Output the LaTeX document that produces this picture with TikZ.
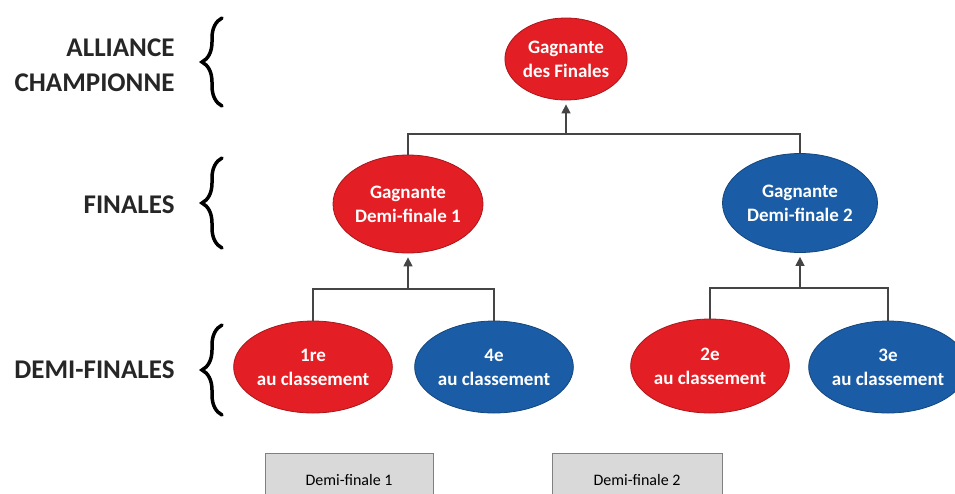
\documentclass[tikz,border=0pt]{standalone}
\usepackage{fontspec}
\setmainfont{Carlito}
\usetikzlibrary{shapes.geometric,decorations.pathreplacing,arrows.meta}
\definecolor{rouge}{HTML}{E31E24}
\definecolor{bleu}{HTML}{1A5DA6}
\definecolor{trait}{HTML}{454545}
\definecolor{gris}{HTML}{D9D9D9}
\tikzset{
  equipe/.style={ellipse, draw=#1!75!black, fill=#1, line width=0.8pt, text=white,
    inner sep=0pt, align=center, font=\bfseries\fontsize{19}{24}\selectfont},
  niveau/.style={align=right, anchor=east, text=black!85,
    font=\bfseries\fontsize{27}{35}\selectfont},
  accolade/.style={decorate, decoration={brace, amplitude=20pt}, line width=3.5pt, line cap=round},
  lien/.style={draw=trait, line width=1.5pt},
  fleche/.style={lien, -{Triangle[length=9pt,width=9pt]}, shorten >=4pt},
  etiquette/.style={draw=gray, fill=gris, minimum height=54pt, inner sep=0pt,
    font=\fontsize{16}{19}\selectfont}
}
\begin{document}
\begin{tikzpicture}[x=1pt,y=-1pt]
  \useasboundingbox (0,0) rectangle (955,493);
  % niveaux
  \node[niveau] (lchamp) at (178,65) {ALLIANCE\\CHAMPIONNE};
  \node[niveau] (lfin) at (178,205) {FINALES};
  \node[niveau] (ldemi) at (178,370) {DEMI-FINALES};
  \draw[accolade] (222,106) -- (222,18);
  \draw[accolade] (222,248) -- (222,158);
  \draw[accolade] (222,415) -- (222,325);
  % equipes
  \node[equipe=rouge, minimum width=104pt, minimum height=82pt] (champ) at (566,59) {Gagnante\\des Finales};
  \node[equipe=rouge, minimum width=150pt, minimum height=98pt] (gdf1) at (408,204) {Gagnante\\Demi-finale 1};
  \node[equipe=bleu, minimum width=155pt, minimum height=99pt] (gdf2) at (800,203) {Gagnante\\Demi-finale 2};
  \node[equipe=rouge, minimum width=150pt, minimum height=92pt] (p1) at (313,367) {1re\\au classement};
  \node[equipe=bleu, minimum width=142pt, minimum height=92pt] (p4) at (494,367) {4e\\au classement};
  \node[equipe=rouge, minimum width=150pt, minimum height=94pt] (p2) at (710,366) {2e\\au classement};
  \node[equipe=bleu, minimum width=142pt, minimum height=92pt] (p3) at (888,367) {3e\\au classement};
  % liens
  \coordinate (jA) at (566,134);
  \coordinate (jB) at (408,289);
  \coordinate (jC) at (800,288);
  \draw[lien] (gdf1.north) |- (jA) -| (gdf2.north);
  \draw[fleche] (jA) -- (champ.south);
  \draw[lien] (p1.north) |- (jB) -| (p4.north);
  \draw[fleche] (jB) -- (gdf1.south);
  \draw[lien] (p2.north) |- (jC) -| (p3.north);
  \draw[fleche] (jC) -- (gdf2.south);
  % etiquettes
  \node[etiquette, minimum width=168pt] (df1) at (349,480) {Demi-finale 1};
  \node[etiquette, minimum width=170pt] (df2) at (637,480) {Demi-finale 2};
\end{tikzpicture}
\end{document}
